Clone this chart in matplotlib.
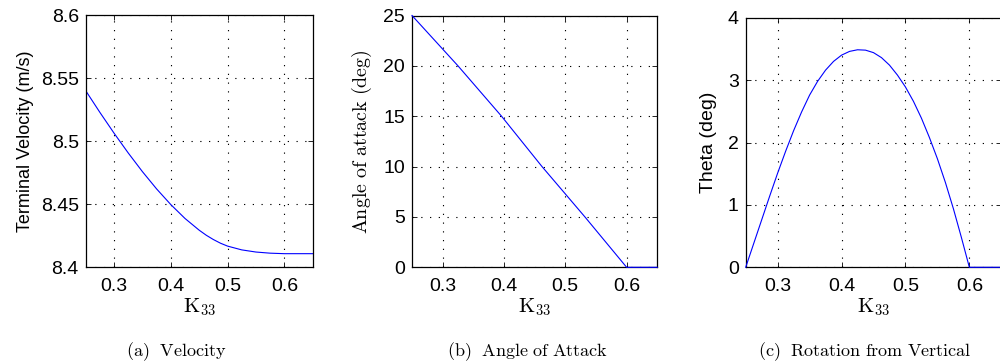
import matplotlib
matplotlib.use("Agg")
import matplotlib.pyplot as plt

plt.rcParams['mathtext.fontset'] = 'cm'
plt.rcParams['font.family'] = ['Liberation Sans', 'DejaVu Sans']
plt.rcParams['lines.scale_dashes'] = False

# Panel (a): terminal velocity vs K33
k_vel = [0.25, 0.275, 0.30, 0.325, 0.35, 0.375, 0.40, 0.425, 0.45, 0.4625,
         0.475, 0.4875, 0.50, 0.525, 0.55, 0.575, 0.60, 0.65]
velocity = [8.5400, 8.5228, 8.5063, 8.4906, 8.4758, 8.4621, 8.4497, 8.4387,
            8.4294, 8.4254, 8.4220, 8.4191, 8.4168, 8.4138, 8.4121, 8.4112,
            8.4108, 8.4108]

# Panel (b): angle of attack vs K33
k_aoa = [0.25, 0.325, 0.396, 0.462, 0.532, 0.60, 0.65]
alpha_deg = [25, 20, 15, 10, 5, 0, 0]

# Panel (c): rotation from vertical vs K33
k_theta = [0.25, 0.2625, 0.275, 0.2875, 0.30, 0.3125, 0.325, 0.3375, 0.35,
           0.3625, 0.375, 0.3875, 0.40, 0.4125, 0.425, 0.4375, 0.45, 0.4625,
           0.475, 0.4875, 0.50, 0.5125, 0.525, 0.5375, 0.55, 0.5625, 0.575,
           0.5875, 0.60, 0.65]
theta_deg = [0.0, 0.38, 0.76, 1.14, 1.51, 1.86, 2.19, 2.49, 2.76,
             2.98, 3.16, 3.30, 3.40, 3.46, 3.486, 3.48, 3.44, 3.36,
             3.24, 3.08, 2.89, 2.66, 2.39, 2.08, 1.74, 1.36, 0.94,
             0.48, 0.0, 0.0]

x_ticks = [0.3, 0.4, 0.5, 0.6]
x_ticklabels = ['0.3', '0.4', '0.5', '0.6']
xlabel = r'$\mathrm{K}_{33}$'

fig = plt.figure(figsize=(10, 3.62), dpi=100)

W, H = 1000.0, 362.0

def make_axes(left, right, top, bottom):
    return fig.add_axes([left / W, (H - bottom) / H, (right - left) / W, (bottom - top) / H])

ax_a = make_axes(85.7, 312.7, 15.0, 267.3)
ax_b = make_axes(412.0, 657.3, 15.5, 267.3)
ax_c = make_axes(745.7, 1001.3, 17.7, 267.3)

tick_fs = 14

def style(ax):
    ax.set_xlim(0.25, 0.65)
    ax.set_xticks(x_ticks)
    ax.set_xticklabels(x_ticklabels)
    ax.tick_params(direction='in', length=3.5, width=0.6, top=True, right=True,
                   labelsize=tick_fs, colors='black')
    ax.tick_params(axis='x', pad=8)
    ax.tick_params(axis='y', pad=5)
    ax.grid(True, color='black', linestyle=(0, (0.9, 5.4)), linewidth=0.8)
    for s in ax.spines.values():
        s.set_linewidth(0.9)
        s.set_color('black')
    ax.set_xlabel(xlabel, fontsize=15, labelpad=1)

ax_a.plot(k_vel, velocity, color='#0000ff', lw=0.8)
style(ax_a)
ax_a.set_ylim(8.4, 8.6)
ax_a.set_yticks([8.4, 8.45, 8.5, 8.55, 8.6])
ax_a.set_yticklabels(['8.4', '8.45', '8.5', '8.55', '8.6'])
ax_a.set_ylabel('Terminal Velocity (m/s)', fontsize=13, labelpad=5)

ax_b.plot(k_aoa, alpha_deg, color='#0000ff', lw=0.8, clip_on=False, zorder=3)
style(ax_b)
ax_b.set_ylim(0, 25)
ax_b.set_yticks([0, 5, 10, 15, 20, 25])
ax_b.set_ylabel(r'$\mathrm{Angle\ of\ attack\ (deg)}$', fontsize=14.4, labelpad=7)

ax_c.plot(k_theta, theta_deg, color='#0000ff', lw=0.8, clip_on=False, zorder=3)
style(ax_c)
ax_c.set_ylim(0, 4)
ax_c.set_yticks([0, 1, 2, 3, 4])
ax_c.set_ylabel('Theta (deg)', fontsize=14, labelpad=8)

caption_fs = 13
fig.text(176 / W, 1 - 352 / H, r'$\mathrm{(a)\ \ Velocity}$', ha='center', va='center', fontsize=caption_fs)
fig.text(528 / W, 1 - 352 / H, r'$\mathrm{(b)\ \ Angle\ of\ Attack}$', ha='center', va='center', fontsize=caption_fs)
fig.text(865 / W, 1 - 352 / H, r'$\mathrm{(c)\ \ Rotation\ from\ Vertical}$', ha='center', va='center', fontsize=caption_fs)

fig.savefig('out.png', dpi=100)
